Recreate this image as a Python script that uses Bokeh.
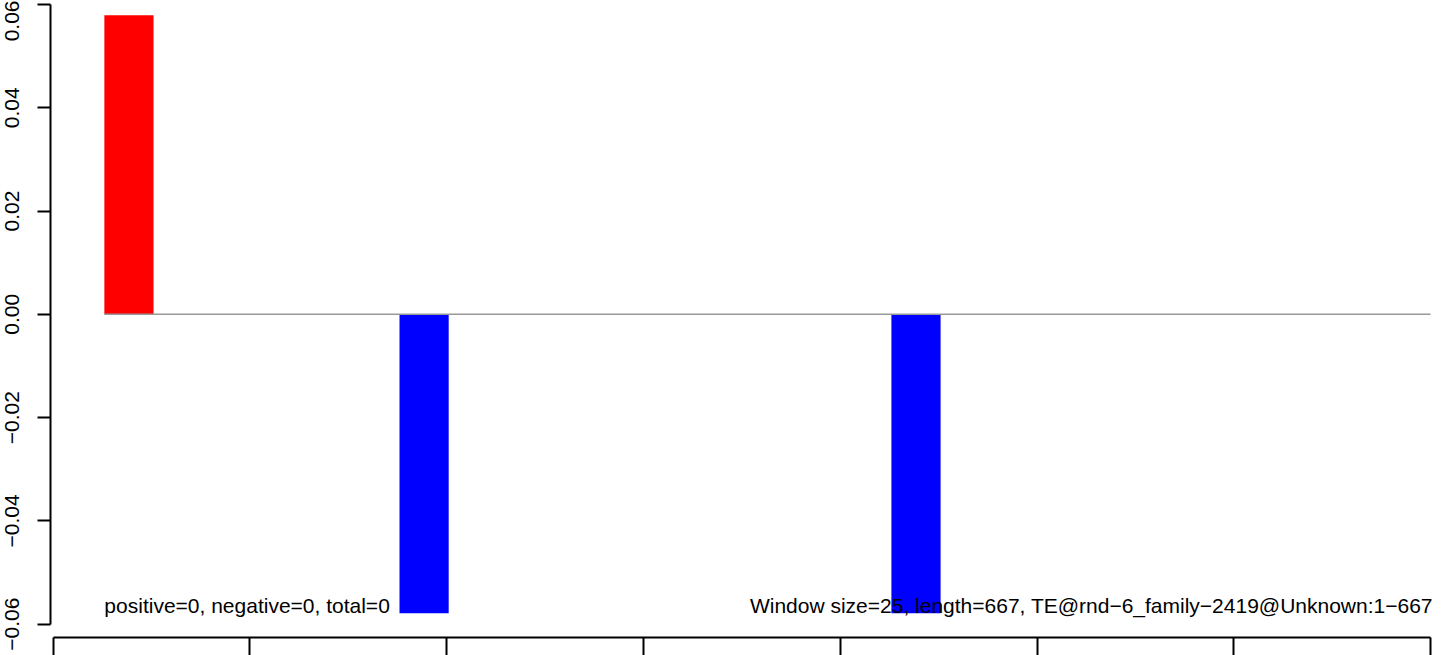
from bokeh.plotting import figure
from bokeh.models import Range1d, FixedTicker, ColumnDataSource
from bokeh.core.properties import value
from bokeh.embed import file_html
from bokeh.resources import INLINE

# ---- data ----
window_size = 25
seq_length = 667
window_starts = [26, 176, 426]
window_values = [0.0579, -0.0579, -0.0579]
bar_colors = ["#ff0000", "#0000ff", "#0000ff"]
baseline_x = [26, 700]
x_ticks = [0, 100, 200, 300, 400, 500, 600, 700]
y_ticks = [-0.06, -0.04, -0.02, 0.0, 0.02, 0.04, 0.06]
y_tick_labels = ["\u22120.06", "\u22120.04", "\u22120.02", "0.00", "0.02", "0.04", "0.06"]
left_note = "positive=0, negative=0, total=0"
right_note = "Window size=25, length=667, TE@rnd\u22126_family\u22122419@Unknown:1\u2212667"

FONT = "Liberation Sans"

p = figure(width=1452, height=655, output_backend="svg", toolbar_location=None,
           x_range=Range1d(-1.372, 705.07), y_range=Range1d(-0.06258, 0.06078),
           min_border_left=50, min_border_right=12, min_border_top=0, min_border_bottom=18)
p.outline_line_color = None
p.xgrid.visible = False
p.ygrid.visible = False
p.background_fill_color = "white"
p.border_fill_color = "white"

# bars
src = ColumnDataSource(dict(
    left=window_starts,
    right=[s + window_size for s in window_starts],
    top=[max(v, 0) for v in window_values],
    bottom=[min(v, 0) for v in window_values],
    color=bar_colors,
))
p.quad(left="left", right="right", top="top", bottom="bottom", source=src,
       fill_color="color", line_color=None)

# baseline
p.segment(x0=[baseline_x[0]], x1=[baseline_x[1]], y0=[0], y1=[0],
          line_color="#999999", line_width=1.5)

# notes
p.text(x=[window_starts[0]], y=[-0.05638], text=[left_note], text_align="left",
       text_baseline="middle", text_font=value(FONT), text_font_size="21px",
       text_color="black")
p.text(x=[701.2], y=[-0.05638], text=[right_note], text_align="right",
       text_baseline="middle", text_font=value(FONT), text_font_size="21px",
       text_color="black")

# axes
xa = p.xaxis[0]
xa.ticker = FixedTicker(ticks=x_ticks)
xa.bounds = (x_ticks[0], x_ticks[-1])
xa.major_tick_out = 18
xa.major_tick_in = 0
xa.minor_tick_out = 0
xa.minor_tick_in = 0
xa.major_label_overrides = {t: "" for t in x_ticks}
xa.major_label_standoff = 0
xa.axis_line_width = 2
xa.major_tick_line_width = 2
xa.axis_line_color = "black"

ya = p.yaxis[0]
ya.ticker = FixedTicker(ticks=y_ticks)
ya.bounds = (y_ticks[0], y_ticks[-1])
ya.major_label_overrides = {t: l for t, l in zip(y_ticks, y_tick_labels)}
ya.major_tick_out = 13
ya.major_tick_in = 0
ya.minor_tick_out = 0
ya.minor_tick_in = 0
ya.major_label_orientation = "parallel"
ya.major_label_standoff = 18
ya.major_label_text_font = FONT
ya.major_label_text_font_size = "21px"
ya.major_label_text_color = "black"
ya.axis_line_width = 2
ya.major_tick_line_width = 2
ya.axis_line_color = "black"

open("out.html", "w").write(file_html(p, INLINE))
